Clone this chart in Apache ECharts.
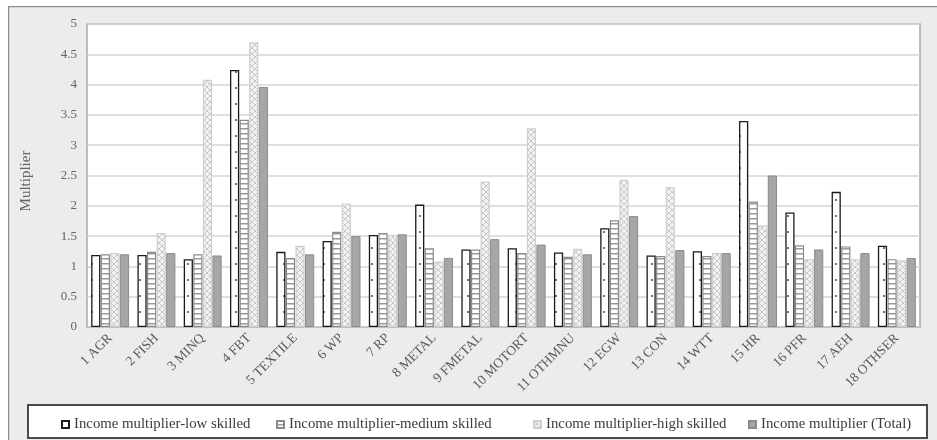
<!DOCTYPE html>
<html>
<head>
<meta charset="utf-8">
<script src="https://cdn.jsdelivr.net/npm/echarts@6/dist/echarts.min.js"></script>
<style>
  html, body { margin: 0; padding: 0; background: #ffffff; }
  #chart { width: 937px; height: 440px; }
</style>
</head>
<body>
<div id="chart"></div>
<script>
// Sector codes on the category axis
const sectors = ['1 AGR', '2 FISH', '3 MINQ', '4 FBT', '5 TEXTILE', '6 WP', '7 RP', '8 METAL',
  '9 FMETAL', '10 MOTORT', '11 OTHMNU', '12 EGW', '13 CON', '14 WTT', '15 HR', '16 PFR',
  '17 AEH', '18 OTHSER'];

// Income multipliers by skill level
const lowSkilled = [1.19, 1.19, 1.12, 4.24, 1.24, 1.42, 1.52, 2.02, 1.28, 1.30, 1.23, 1.63,
  1.18, 1.25, 3.40, 1.89, 2.23, 1.34];
const mediumSkilled = [1.20, 1.24, 1.20, 3.42, 1.14, 1.57, 1.55, 1.30, 1.28, 1.22, 1.16, 1.76,
  1.17, 1.17, 2.07, 1.35, 1.33, 1.12];
const highSkilled = [1.22, 1.55, 4.08, 4.70, 1.34, 2.04, 1.52, 1.08, 2.40, 3.28, 1.29, 2.43,
  2.31, 1.22, 1.68, 1.12, 1.12, 1.10];
const totalMultiplier = [1.20, 1.22, 1.18, 3.96, 1.20, 1.50, 1.53, 1.14, 1.45, 1.36, 1.20, 1.83,
  1.27, 1.22, 2.50, 1.28, 1.22, 1.14];

const seriesNames = ['Income multiplier-low skilled', 'Income multiplier-medium skilled',
  'Income multiplier-high skilled', 'Income multiplier (Total)'];

const yTicks = ['0', '0.5', '1', '1.5', '2', '2.5', '3', '3.5', '4', '4.5', '5'];

// Fill patterns
function makeCanvas(w, h, draw) {
  const c = document.createElement('canvas');
  c.width = w; c.height = h;
  draw(c.getContext('2d'));
  return c;
}
const dotPattern = makeCanvas(8, 16, g => {
  g.fillStyle = '#ffffff'; g.fillRect(0, 0, 8, 16);
  g.fillStyle = '#e4e4e4';
  g.fillRect(1, 3, 1, 1); g.fillRect(6, 12, 1, 1); g.fillRect(2, 13, 1, 1); g.fillRect(6, 2, 1, 1);
  g.fillStyle = '#555555';
  g.beginPath(); g.arc(4, 8, 1.1, 0, Math.PI * 2); g.fill();
});
const ladderPattern = makeCanvas(8, 5, g => {
  g.fillStyle = '#ffffff'; g.fillRect(0, 0, 8, 5);
  g.fillStyle = '#9a9a9a'; g.fillRect(0, 3, 8, 1.5);
});
const crossPattern = makeCanvas(6, 6, g => {
  g.fillStyle = '#f2f2f2'; g.fillRect(0, 0, 6, 6);
  g.strokeStyle = '#c8c8c8'; g.lineWidth = 1;
  g.beginPath();
  g.moveTo(0, 0); g.lineTo(6, 6);
  g.moveTo(6, 0); g.lineTo(0, 6);
  g.stroke();
});

const serif = '"Liberation Serif", "DejaVu Serif", serif';
const chart = echarts.init(document.getElementById('chart'));

const styles = [
  { color: { image: dotPattern, repeat: 'repeat' }, borderColor: '#1a1a1a', borderWidth: 1.3 },
  { color: { image: ladderPattern, repeat: 'repeat' }, borderColor: '#8a8a8a', borderWidth: 1.2 },
  { color: { image: crossPattern, repeat: 'repeat' }, borderColor: '#cfcfcf', borderWidth: 1.2 },
  { color: '#a6a6a6', borderColor: '#8c8c8c', borderWidth: 1 }
];
const values = [lowSkilled, mediumSkilled, highSkilled, totalMultiplier];

// One legend entry per slot inside the framed legend box
const legendLefts = [56, 271, 528, 743];
const legends = seriesNames.map((name, i) => ({
  left: legendLefts[i], top: 412,
  icon: 'rect',
  itemWidth: 7, itemHeight: 7,
  textStyle: { fontFamily: serif, fontSize: 14.8, color: '#3a3a3a' },
  data: [name]
}));

chart.setOption({
  animation: false,
  backgroundColor: '#ffffff',
  graphic: [
    { type: 'rect', left: 8, top: 6, z: -10,
      shape: { width: 940, height: 440 },
      style: { fill: '#ececec', stroke: '#8a8a8a', lineWidth: 1.2 } },
    { type: 'rect', left: 27, top: 404, z: -5,
      shape: { width: 899, height: 33 },
      style: { fill: '#ffffff', stroke: '#4a4a4a', lineWidth: 2 } },
    { type: 'text', x: 26, y: 181, rotation: Math.PI / 2,
      style: { text: 'Multiplier', font: '15px ' + serif, fill: '#666666',
        textAlign: 'center', textVerticalAlign: 'middle' } }
  ],
  grid: {
    left: 87, right: 17, top: 24, bottom: 113,
    show: true, backgroundColor: '#ffffff', borderColor: '#a8a8a8', borderWidth: 1.5
  },
  legend: legends,
  xAxis: {
    type: 'category',
    data: sectors,
    axisLine: { show: true, lineStyle: { color: '#bfbfbf', width: 1 } },
    axisTick: { show: false },
    axisLabel: { rotate: 45, interval: 0, margin: 9, fontFamily: serif, fontSize: 13.5, color: '#595959' }
  },
  yAxis: {
    type: 'value',
    min: 0, max: 5, interval: 0.5,
    axisLine: { show: false },
    axisTick: { show: false },
    splitLine: { lineStyle: { color: '#d4d4d4', width: 1.5 } },
    axisLabel: {
      margin: 10, fontFamily: serif, fontSize: 13, color: '#666666',
      formatter: v => yTicks[Math.round(v * 2)]
    }
  },
  series: values.map((d, i) => ({
    name: seriesNames[i],
    type: 'bar',
    data: d,
    barGap: '4%',
    barCategoryGap: '18%',
    itemStyle: styles[i],
    emphasis: { disabled: true }
  }))
});
</script>
</body>
</html>
